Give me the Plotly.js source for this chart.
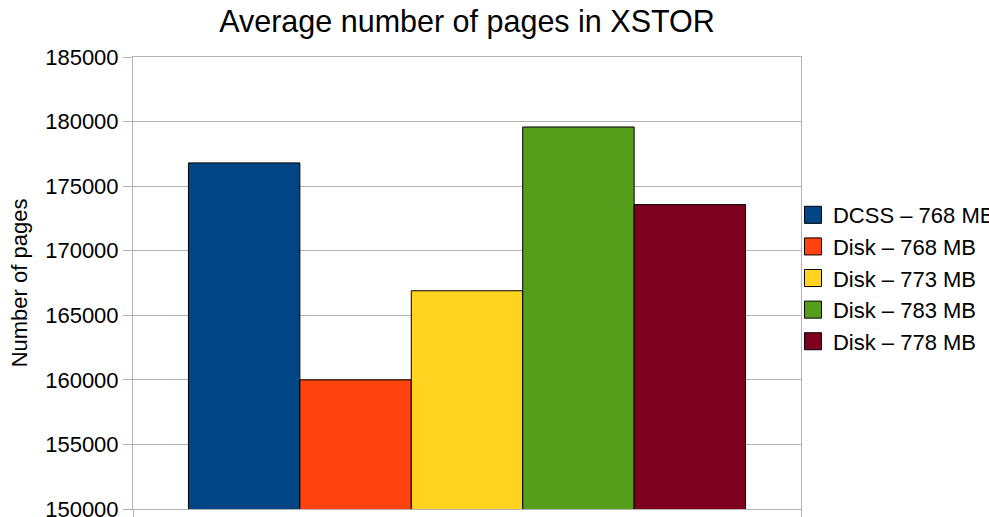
<!DOCTYPE html>
<html>
<head>
<meta charset="utf-8">
<script src="https://cdn.plot.ly/plotly-3.0.1.min.js"></script>
<style>html,body{margin:0;padding:0;background:#fff;}#chart{width:989px;height:517px;}</style>
</head>
<body>
<div id="chart"></div>
<script>
const category = ['XSTOR'];
const seriesNames = ['DCSS – 768 MB', 'Disk – 768 MB', 'Disk – 773 MB', 'Disk – 783 MB', 'Disk – 778 MB'];
const seriesValues = [176800, 160000, 166900, 179580, 173570];
const seriesColors = ['#004586', '#ff420e', '#ffd320', '#579d1c', '#7e0021'];
const yTicks = [150000, 155000, 160000, 165000, 170000, 175000, 180000, 185000];

const traces = seriesNames.map((name, i) => ({
  type: 'bar',
  name: name,
  x: category,
  y: [seriesValues[i]],
  legendgroup: 'g' + i,
  marker: { color: seriesColors[i], line: { color: '#000000', width: 1 } },
  hoverinfo: 'skip'
}));

const layout = {
  width: 989, height: 517,
  margin: { l: 133, r: 188, t: 57, b: 8, pad: 0, autoexpand: false },
  paper_bgcolor: '#ffffff', plot_bgcolor: '#ffffff',
  font: { family: 'Liberation Sans, Arial, sans-serif', size: 22, color: '#000000' },
  title: { text: 'Average number of pages in XSTOR', font: { size: 30.5, color: '#000' }, x: 0.5, xref: 'paper', y: 0.958, yanchor: 'middle' },
  barmode: 'group', bargap: 0.166, bargroupgap: 0,
  showlegend: true,
  legend: { x: 0.988, xanchor: 'left', y: 0.511, yanchor: 'middle', font: { size: 22 }, traceorder: 'grouped', tracegroupgap: 0, bgcolor: 'rgba(0,0,0,0)' },
  xaxis: {
    type: 'category', showticklabels: false, showgrid: false,
    showline: true, linecolor: '#b3b3b3', linewidth: 1, mirror: true,
    ticks: 'outside', tickson: 'boundaries', ticklen: 8, tickcolor: '#b3b3b3',
    fixedrange: true
  },
  yaxis: {
    range: [150000, 185000], tickvals: yTicks, ticktext: yTicks.map(String),
    ticklabeloverflow: 'allow',
    showgrid: true, gridcolor: '#b3b3b3', gridwidth: 1,
    showline: true, linecolor: '#b3b3b3', linewidth: 1, mirror: true,
    ticks: 'outside', ticklen: 9, tickcolor: '#b3b3b3',
    zeroline: false,
    title: { text: 'Number of pages', font: { size: 22 }, standoff: 11 },
    fixedrange: true
  }
};

Plotly.newPlot('chart', traces, layout, { staticPlot: true, displayModeBar: false }).then(gd => {
  gd.querySelectorAll('.legendpoints path').forEach(p => {
    const t = p.getAttribute('transform') || '';
    p.setAttribute('transform', t + ' scale(1.42)');
    p.style.strokeWidth = '0.7px';
  });
});
</script>
</body>
</html>
